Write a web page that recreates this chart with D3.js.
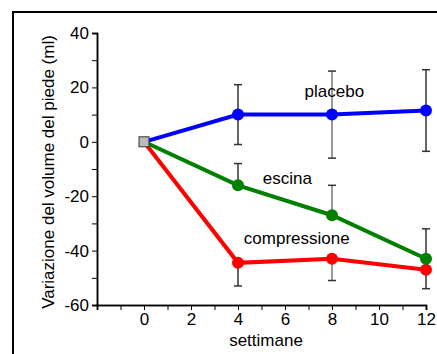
<!DOCTYPE html>
<html>
<head>
<meta charset="utf-8">
<script src="https://cdn.jsdelivr.net/npm/d3@7"></script>
<style>
  body { margin: 0; background: #fff; }
  svg text { font-family: "Comic Sans MS", "Liberation Sans", sans-serif; }
</style>
</head>
<body>
<svg id="chart" width="437" height="354"></svg>
<script>
// weeks and series values (ml)
const weeks = [0, 4, 8, 12];
const placebo = [0, 10, 10, 11.5];
const placeboErr = [0, 11, 16, 15];
const escina = [0, -16, -27, -43];
const escinaErr = [0, 8, 11, 11];
const compressione = [0, -44.5, -43, -47];
const compressioneErr = [0, 8.5, 8, 7];

const series = [
  { name: "placebo", values: placebo, err: placeboErr, color: "#0000ff", dir: "both", lx: 8.1, ly: 16.5 },
  { name: "escina", values: escina, err: escinaErr, color: "#008000", dir: "up", lx: 6.1, ly: -15.5 },
  { name: "compressione", values: compressione, err: compressioneErr, color: "#ff0000", dir: "down", lx: 6.5, ly: -37.5 }
];

const svg = d3.select("#chart");

// outer frame
svg.append("path")
  .attr("d", "M13,354 V12 H437")
  .attr("fill", "none")
  .attr("stroke", "#000")
  .attr("stroke-width", 2);

const x = d3.scaleLinear().domain([-2, 12]).range([97, 426]);
const y = d3.scaleLinear().domain([-60, 40]).range([305, 33]);
const fmt = d => String(d); // plain hyphen for negatives

// y axis
const yAxis = svg.append("g").attr("transform", `translate(${x(-2)},0)`);
yAxis.call(d3.axisLeft(y).tickValues(d3.range(-60, 41, 20)).tickFormat(fmt).tickSize(5).tickPadding(3));
yAxis.append("g").call(d3.axisLeft(y).tickValues(d3.range(-50, 41, 20)).tickSize(5).tickFormat(""));
yAxis.selectAll(".domain").attr("stroke-width", 1.5);

// x axis
const xAxis = svg.append("g").attr("transform", `translate(0,${y(-60)})`);
xAxis.call(d3.axisBottom(x).tickValues(d3.range(0, 13, 2)).tickFormat(fmt).tickSize(5).tickPadding(3));
xAxis.append("g").call(d3.axisBottom(x).tickValues(d3.range(-1, 12, 2)).tickSize(5).tickFormat(""));
xAxis.selectAll(".domain").attr("stroke-width", 1.5);

svg.selectAll(".tick text").attr("font-size", 17).attr("fill", "#000")
  .style("font-family", "'Liberation Sans', Arial, sans-serif");
svg.selectAll(".tick line").attr("stroke", "#000");

// axis titles
svg.append("text")
  .attr("x", 266).attr("y", 346)
  .attr("text-anchor", "middle")
  .attr("font-size", 17)
  .text("settimane");

svg.append("text")
  .attr("transform", `translate(54,172) rotate(-90)`)
  .attr("text-anchor", "middle")
  .attr("font-size", 17)
  .text("Variazione del volume del piede (ml)");

// error bars
series.forEach(s => {
  const g = svg.append("g");
  weeks.forEach((w, i) => {
    if (i === 0) return;
    const v = s.values[i], e = s.err[i];
    const top = s.dir === "down" ? v : v + e;
    const bot = s.dir === "up" ? v : v - e;
    const col = w === 8 ? "#777" : "#333";
    g.append("line").attr("x1", x(w)).attr("x2", x(w)).attr("y1", y(top)).attr("y2", y(bot))
      .attr("stroke", col).attr("stroke-width", 1.5);
    if (s.dir !== "down")
      g.append("line").attr("x1", x(w) - 4).attr("x2", x(w) + 4).attr("y1", y(top)).attr("y2", y(top))
        .attr("stroke", "#333").attr("stroke-width", 1.5);
    if (s.dir !== "up")
      g.append("line").attr("x1", x(w) - 4).attr("x2", x(w) + 4).attr("y1", y(bot)).attr("y2", y(bot))
        .attr("stroke", "#333").attr("stroke-width", 1.5);
  });
});

// lines and points
const line = d3.line().x(d => x(d[0])).y(d => y(d[1]));
series.slice().reverse().forEach(s => {
  const pts = weeks.map((w, i) => [w, s.values[i]]);
  svg.append("path")
    .attr("d", line(pts))
    .attr("fill", "none")
    .attr("stroke", s.color)
    .attr("stroke-width", 4);
  svg.selectAll(null)
    .data(pts.slice(1))
    .join("circle")
    .attr("cx", d => x(d[0]))
    .attr("cy", d => y(d[1]))
    .attr("r", 6)
    .attr("fill", s.color);
  svg.append("text")
    .attr("x", x(s.lx)).attr("y", y(s.ly))
    .attr("text-anchor", "middle")
    .attr("font-size", 17)
    .attr("fill", "#000")
    .text(s.name);
});

// origin marker
svg.append("rect")
  .attr("x", x(0) - 5).attr("y", y(0) - 5)
  .attr("width", 10).attr("height", 10)
  .attr("fill", "#bbb")
  .attr("stroke", "#333")
  .attr("stroke-width", 1);
</script>
</body>
</html>
